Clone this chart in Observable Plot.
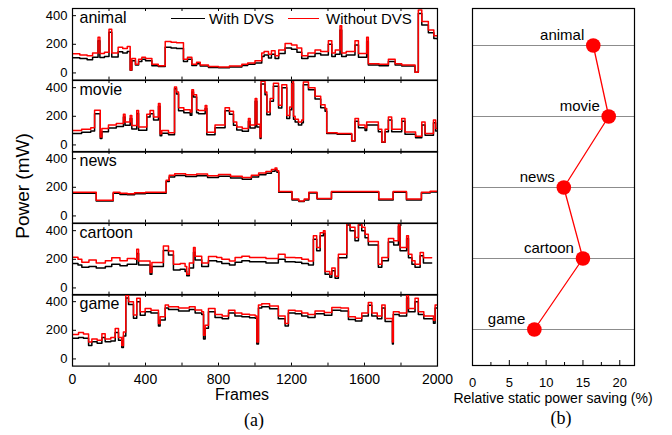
<!DOCTYPE html>
<html><head><meta charset="utf-8">
<script src="https://cdn.jsdelivr.net/npm/d3@7"></script>
<script src="https://cdn.jsdelivr.net/npm/@observablehq/plot@0.6"></script>
<style>
body{margin:0;background:#fff;}
#wrap{position:relative;width:672px;height:435px;font-family:"Liberation Sans",Arial,sans-serif;color:#000;overflow:hidden;background:#fff}
.abs{position:absolute;line-height:1;white-space:nowrap}
</style></head><body><div id="wrap"></div>
<script>
// ---------- data: panel (a) ----------
const panelNames = ["animal", "movie", "news", "cartoon", "game"];
const seriesNames = ["With DVS", "Without DVS"];
const xTickLabels = [0, 400, 800, 1200, 1600, 2000];
const xMinorTicks = [200, 400, 600, 800, 1000, 1200, 1400, 1600, 1800];
const yTickLabels = [0, 200, 400];

const animalFrames = [0,40,80,110,140,150,175,200,215,250,275,300,316,325,345,362,380,400,435,470,508,540,570,608,630,654,680,700,745,800,860,928,960,1000,1037,1050,1074,1090,1110,1130,1165,1200,1230,1256,1290,1329,1360,1402,1421,1440,1466,1475,1500,1548,1567,1612,1621,1680,1731,1768,1804,1877,1895,1914,1950,1980,2000];
const animalWithout = [134,125,120,140,250,135,145,305,140,180,170,185,20,100,60,95,110,100,60,50,220,215,210,95,110,60,75,55,45,42,48,60,70,85,140,150,130,155,120,160,205,195,175,120,140,160,150,225,140,160,330,140,150,225,135,250,65,60,95,65,55,5,440,360,300,260,255];
const animalWith = [106,100,92,110,225,108,115,285,112,148,140,150,18,85,55,80,95,85,50,45,180,175,170,80,95,52,65,48,38,36,42,52,60,70,115,125,105,130,100,135,175,165,145,100,115,135,125,200,115,130,300,115,125,195,110,220,55,50,80,55,48,5,415,335,280,240,235];

const movieFrames = [0,50,100,121,152,161,197,240,279,288,316,325,352,362,407,425,444,471,480,489,526,559,570,581,610,645,654,663,680,690,727,736,781,836,860,882,900,930,964,973,1001,1010,1028,1033,1055,1065,1083,1101,1129,1147,1174,1190,1201,1211,1220,1238,1256,1265,1293,1329,1360,1384,1393,1450,1530,1548,1567,1603,1612,1676,1695,1713,1731,1749,1804,1822,1880,1914,1932,1978,1990,2000];
const movieWithout = [100,110,120,242,55,115,140,150,215,160,205,135,240,125,215,240,195,290,78,100,85,405,370,260,245,230,385,350,245,240,275,88,140,260,235,160,125,115,185,140,325,145,55,445,370,230,325,430,278,420,205,265,448,200,180,160,175,440,400,340,280,255,85,80,30,185,140,120,160,110,20,110,195,110,185,90,60,160,80,175,115,115];
const movieWith = [80,88,98,218,45,92,118,128,195,138,185,112,220,102,195,218,175,270,65,82,72,392,355,238,225,208,370,335,225,218,255,72,120,238,215,138,105,95,165,118,305,125,45,425,350,210,305,410,258,400,185,245,430,180,160,140,155,420,385,320,260,235,80,75,28,165,120,100,140,92,18,92,175,92,165,75,50,140,68,155,98,98];

const newsFrames = [0,130,223,260,300,340,400,513,530,560,620,680,740,800,866,930,980,1020,1060,1090,1110,1120,1130,1203,1240,1270,1295,1340,1419,1678,1757,1830,1912,1960,2000];
const newsWithout = [165,110,165,158,155,162,165,250,285,295,288,292,280,290,278,268,285,300,310,325,335,315,170,118,105,118,165,122,170,118,170,118,165,172,172];
const newsWith = [158,105,158,150,148,155,158,240,272,282,276,280,268,278,265,256,272,288,298,312,322,305,165,112,100,112,160,118,165,112,165,112,160,167,167];

const cartoonFrames = [0,30,51,90,130,180,215,260,300,343,352,362,425,435,498,526,553,590,617,626,640,663,672,708,745,790,818,860,891,928,970,1060,1128,1165,1220,1256,1293,1320,1338,1357,1375,1384,1410,1421,1439,1457,1503,1521,1548,1567,1585,1603,1621,1676,1695,1731,1760,1786,1795,1831,1841,1860,1877,1905,1923,1968];
const cartoonWithout = [215,200,180,195,175,190,210,190,205,200,270,188,110,178,292,258,165,170,150,95,175,282,222,175,220,212,200,188,212,222,212,205,235,212,210,200,188,365,282,385,400,115,95,140,82,235,455,423,353,455,423,375,325,165,212,345,330,455,282,365,235,190,165,247,210,210];
const cartoonWith = [170,160,145,150,140,150,165,155,165,165,240,160,95,150,262,230,125,130,115,85,140,250,195,150,190,182,170,160,180,190,182,175,200,182,180,170,160,340,260,365,380,95,75,120,68,210,440,400,330,440,400,350,300,145,190,320,300,430,260,345,210,165,145,225,175,175];

const gameFrames = [0,33,60,88,106,135,161,179,210,234,252,270,279,292,307,334,352,371,398,430,471,480,508,526,581,640,672,708,718,727,745,781,820,855,890,928,970,1001,1010,1019,1037,1080,1128,1165,1183,1220,1256,1290,1329,1380,1421,1470,1512,1550,1585,1621,1640,1670,1695,1713,1753,1758,1790,1831,1841,1877,1895,1925,1978,1987,2000];
const gameWithout = [170,185,175,118,140,130,176,140,150,212,150,94,188,445,400,306,423,329,353,340,247,294,376,365,355,365,341,329,165,235,353,310,300,340,320,312,306,300,118,376,385,370,300,247,340,335,320,310,335,325,360,355,294,285,320,395,320,300,376,282,118,329,320,447,353,423,330,300,271,376,376];
const gameWith = [145,150,145,94,120,110,150,120,125,185,130,80,160,425,380,285,400,305,330,320,230,272,355,345,335,345,320,310,140,215,330,290,280,320,300,295,288,285,105,355,365,350,280,230,320,315,300,290,315,305,340,335,275,265,300,375,300,280,355,262,105,310,300,425,330,400,310,280,250,355,355];

// ---------- data: panel (b) ----------
const bCategories = ["animal", "movie", "news", "cartoon", "game"];
const bSaving = [16.4, 18.5, 12.4, 15.0, 8.4];
const bTickLabels = [0, 5, 10, 15, 20];
const bMinorTicks = [2.5, 7.5, 12.5, 17.5];

// ---------- build ----------
const FONT = '"Liberation Sans", Arial, sans-serif';
const wrap = document.getElementById("wrap");
const panels = [
  [animalFrames, animalWith, animalWithout],
  [movieFrames, movieWith, movieWithout],
  [newsFrames, newsWith, newsWithout],
  [cartoonFrames, cartoonWith, cartoonWithout],
  [gameFrames, gameWith, gameWithout]
];
const RED = "#ff0000";
const top0 = 8, panelH = 71.6, plotW = 365;
const fmt = d => `${d}`;

panels.forEach(([fr, w, wo], i) => {
  const last = i === panels.length - 1;
  const mb = last ? 30 : 0;
  const rowsW = fr.map((f, j) => ({frame: f, power: w[j], series: seriesNames[0]}));
  const rowsWo = fr.map((f, j) => ({frame: f, power: wo[j], series: seriesNames[1]}));
  const marks = [
    Plot.line(rowsW, {x: "frame", y: "power", curve: "step-after", stroke: "#000", strokeWidth: 1.5, clip: true}),
    Plot.line(rowsWo, {x: "frame", y: "power", curve: "step-after", stroke: RED, strokeWidth: 1.5, clip: true}),
    Plot.frame({stroke: "#000", strokeWidth: 1.2}),
    Plot.ruleX(xMinorTicks, {x: d => d, insetTop: panelH - 3, stroke: "#000"}),
    Plot.ruleX(xMinorTicks, {x: d => d, insetBottom: panelH - 3, stroke: "#000"}),
    Plot.ruleY(yTickLabels, {y: d => d, insetRight: plotW - 4, stroke: "#000"}),
    Plot.axisY(yTickLabels, {tickSize: 0, tickPadding: 5, fontSize: 13, label: null, tickFormat: fmt}),
    Plot.text([panelNames[i]], {text: d => d, frameAnchor: "top-left", dx: 7, dy: 3, lineAnchor: "top", fontSize: 16})
  ];
  if (last) marks.push(Plot.axisX(xTickLabels, {tickSize: 0, tickPadding: 8, fontSize: 14, label: null, tickFormat: fmt}));
  const p = Plot.plot({
    width: 460, height: panelH + mb,
    marginLeft: 72, marginRight: 23, marginTop: 0, marginBottom: mb,
    x: {domain: [0, 2000], axis: null, label: null},
    y: {domain: [-50, 450], axis: null, label: null},
    style: {fontFamily: FONT, color: "#000", background: "transparent", overflow: "visible"},
    marks
  });
  p.style.position = "absolute";
  p.style.left = "0px";
  p.style.top = (top0 + i * panelH) + "px";
  wrap.appendChild(p);
});

// panel (b)
const rowsB = bCategories.map((c, i) => ({cat: c, saving: bSaving[i]}));
const pb = Plot.plot({
  width: 232, height: 392,
  marginLeft: 32, marginRight: 38, marginTop: 8, marginBottom: 27,
  x: {domain: [0, 22], axis: null, label: null},
  y: {type: "point", domain: bCategories, padding: 0.5, axis: null, label: null},
  style: {fontFamily: FONT, color: "#000", background: "transparent", overflow: "visible"},
  marks: [
    Plot.ruleY(bCategories, {y: d => d, stroke: "#8c8c8c", strokeWidth: 1}),
    Plot.line(rowsB, {x: "saving", y: "cat", stroke: RED, strokeWidth: 1.3}),
    Plot.dot(rowsB, {x: "saving", y: "cat", r: 7.3, fill: RED, stroke: "none"}),
    Plot.text(rowsB, {x: "saving", y: "cat", text: "cat", textAnchor: "end", dx: -9, dy: -10, fontSize: 15}),
    Plot.frame({stroke: "#000", strokeWidth: 1.2}),
    Plot.ruleX(bTickLabels, {x: d => d, insetTop: 357 - 5, stroke: "#000"}),
    Plot.ruleX(bMinorTicks, {x: d => d, insetTop: 357 - 3, stroke: "#000"}),
    Plot.axisX(bTickLabels, {tickSize: 0, tickPadding: 12, fontSize: 13, label: null, tickFormat: fmt})
  ]
});
pb.style.position = "absolute";
pb.style.left = "440px";
pb.style.top = "0px";
wrap.appendChild(pb);

// text and legend (HTML)
function addText(txt, css) {
  const d = document.createElement("div");
  d.className = "abs";
  d.textContent = txt;
  Object.assign(d.style, css);
  wrap.appendChild(d);
  return d;
}
function addLine(x, y, w, color) {
  const d = document.createElement("div");
  d.className = "abs";
  Object.assign(d.style, {left: x + "px", top: y + "px", width: w + "px", height: "0px", borderTop: "1.5px solid " + color});
  wrap.appendChild(d);
}
addLine(171, 18, 34, "#000");
addText(seriesNames[0], {left: "209px", top: "11px", fontSize: "15px"});
addLine(288, 18, 31, RED);
addText(seriesNames[1], {left: "326px", top: "11px", fontSize: "15px"});

addText("Power (mW)", {left: "22px", top: "186px", fontSize: "19px", transform: "translate(-50%,-50%) rotate(-90deg)"});
addText("Frames", {left: "242px", top: "395px", fontSize: "16px", transform: "translate(-50%,-50%)"});
addText("Relative static power saving (%)", {left: "553px", top: "398px", fontSize: "14px", transform: "translate(-50%,-50%)"});
addText("(a)", {left: "254px", top: "420px", fontSize: "18px", fontFamily: '"Liberation Serif", "Times New Roman", serif', transform: "translate(-50%,-50%)"});
addText("(b)", {left: "561px", top: "418px", fontSize: "18px", fontFamily: '"Liberation Serif", "Times New Roman", serif', transform: "translate(-50%,-50%)"});
</script>
</body></html>
